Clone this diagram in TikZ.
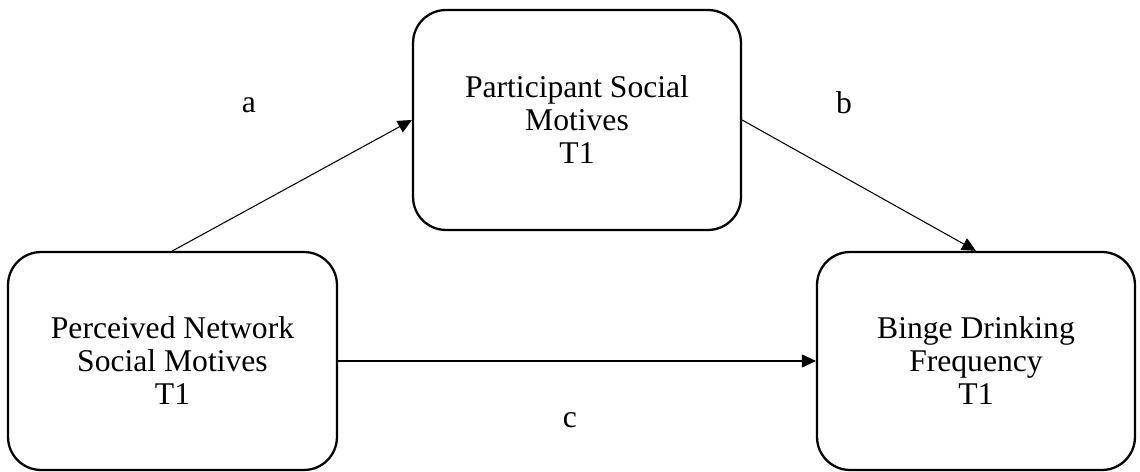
\documentclass[tikz,border=0pt]{standalone}
\usepackage{fontspec}
\setmainfont{Liberation Serif}
\usepackage{tikz}
\usetikzlibrary{arrows.meta}
\tikzset{
  varbox/.style={draw, line width=1.3pt, rounded corners=0.66cm, align=center,
    font=\fontsize{18}{18.8}\selectfont},
  path/.style={line width=0.6pt, -{Triangle[length=0.28cm, width=0.26cm]}},
  pathlabel/.style={font=\fontsize{18}{18.8}\selectfont}
}

\begin{document}
\begin{tikzpicture}[x=0.02cm, y=-0.02cm]
  \useasboundingbox (0,0) rectangle (1140,472);
  \node[varbox, minimum width=6.58cm, minimum height=4.36cm] (network) at (172.5,361) {Perceived Network\\Social Motives\\T1};
  \node[varbox, minimum width=6.56cm, minimum height=4.4cm] (motives) at (577,120) {Participant Social\\Motives\\T1};
  \node[varbox, minimum width=6.36cm, minimum height=4.36cm] (binge) at (976,361) {Binge Drinking\\Frequency\\T1};
  \draw[path] (network.north) -- (motives.west);
  \draw[path] (motives.east) -- (binge.north);
  \draw[path] (network.east) -- (binge.west);
  \node[pathlabel] (la) at (249,105) {a};
  \node[pathlabel] (lb) at (844,103) {b};
  \node[pathlabel] (lc) at (570,420) {c};
\end{tikzpicture}
\end{document}
